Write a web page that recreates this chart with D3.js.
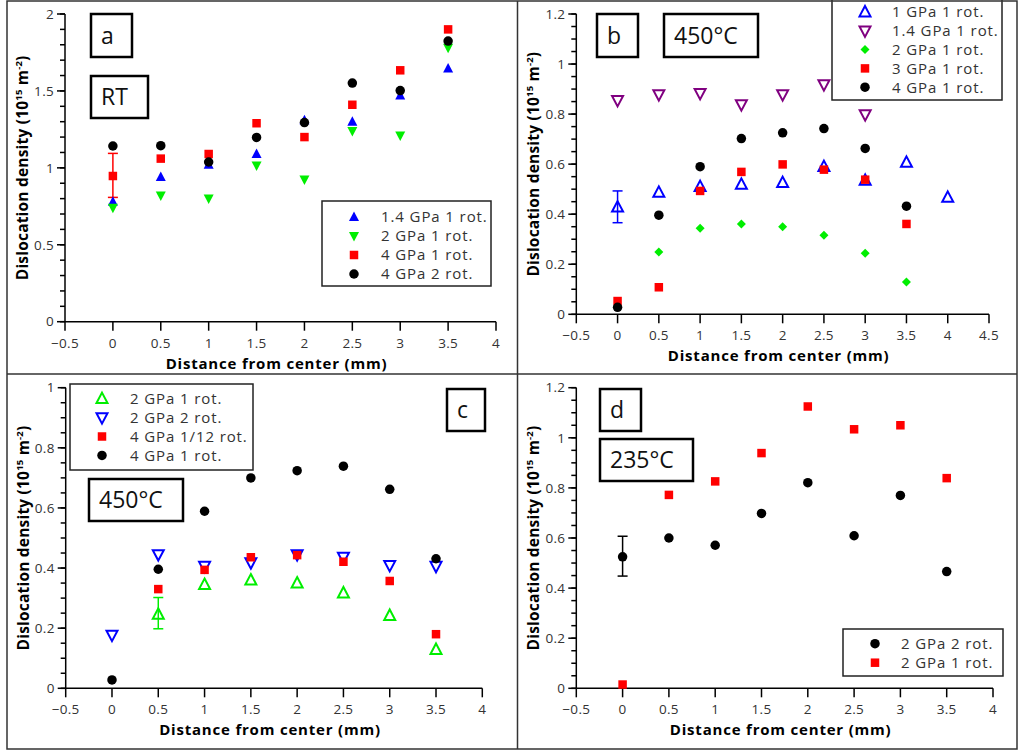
<!DOCTYPE html>
<html>
<head>
<meta charset="utf-8">
<script src="https://cdn.jsdelivr.net/npm/d3@7/dist/d3.min.js"></script>
<style>
  body { margin: 0; background: #fff; }
  svg { display: block; font-family: "Open Sans", "DejaVu Sans", sans-serif; }
</style>
</head>
<body>
<svg id="fig" width="1018" height="751"></svg>
<script>
'use strict';

// ---- data ----
var dist   = [0, 0.5, 1, 1.5, 2, 2.5, 3, 3.5];
var dist4  = [0, 0.5, 1, 1.5, 2, 2.5, 3, 3.5, 4];

// a: room temperature
var aP14r1 = [0.78, 0.94, 1.02, 1.09, 1.31, 1.30, 1.47, 1.645];
var aP2r1  = [0.74, 0.82, 0.80, 1.016, 0.925, 1.24, 1.21, 1.78];
var aP4r1  = [0.947, 1.06, 1.09, 1.29, 1.20, 1.41, 1.634, 1.90];
var aP4r2  = [1.142, 1.144, 1.038, 1.198, 1.294, 1.551, 1.502, 1.824];
var aErr   = [0.808, 1.094];

// b: 450°C
var bP1r1  = [0.428, 0.487, 0.51, 0.519, 0.526, 0.59, 0.535, 0.607, 0.467];
var bP14r1 = [0.855, 0.878, 0.883, 0.838, 0.878, 0.918, 0.798, null];
var bP2r1  = [null, 0.249, 0.344, 0.361, 0.35, 0.316, 0.244, 0.129];
var bP3r1  = [0.053, 0.108, 0.493, 0.569, 0.599, 0.578, 0.538, 0.361];
var bP4r1  = [0.028, 0.396, 0.59, 0.702, 0.725, 0.742, 0.663, 0.432];
var bErr   = [0.366, 0.493];

// c: 450°C
var cP2r1  = [null, 0.246, 0.345, 0.36, 0.35, 0.317, 0.242, 0.129];
var cP2r2  = [0.177, 0.445, 0.406, 0.418, 0.445, 0.436, 0.409, 0.406];
var cP4r12 = [null, 0.33, 0.394, 0.436, 0.443, 0.421, 0.357, 0.18];
var cP4r1  = [0.028, 0.396, 0.589, 0.70, 0.724, 0.739, 0.662, 0.431];
var cErr   = [0.198, 0.302];

// d: 235°C
var dP2r2  = [0.525, 0.60, 0.571, 0.698, 0.821, 0.609, 0.77, 0.466];
var dP2r1  = [0.015, 0.772, 0.826, 0.939, 1.125, 1.034, 1.05, 0.839];
var dErr   = [0.448, 0.607];

var xTicks7 = [-0.5, 0, 0.5, 1, 1.5, 2, 2.5, 3, 3.5, 4];
var xTicks8 = [-0.5, 0, 0.5, 1, 1.5, 2, 2.5, 3, 3.5, 4, 4.5];

var BLUE = '#0000ff', GREEN = '#00ee00', RED = '#ff0000', BLACK = '#000', PURPLE = '#800080';

// ---- marker shapes ----
function markerPath(shape, s) {
	var h = s / 2;
	switch (shape) {
	case 'up':      return 'M0,' + (-h * 1.1) + 'L' + h + ',' + (h * 0.8) + 'L' + (-h) + ',' + (h * 0.8) + 'Z';
	case 'down':    return 'M0,' + (h * 1.1) + 'L' + h + ',' + (-h * 0.8) + 'L' + (-h) + ',' + (-h * 0.8) + 'Z';
	case 'square':  return 'M' + (-h) + ',' + (-h) + 'h' + s + 'v' + s + 'h' + (-s) + 'Z';
	case 'diamond': return 'M0,' + (-h) + 'L' + h + ',0L0,' + h + 'L' + (-h) + ',0Z';
	default:        return d3.arc()({ innerRadius: 0, outerRadius: h, startAngle: 0, endAngle: 2 * Math.PI });
	}
}

function drawMarker(g, shape, open, color, size, x, y) {
	g.append('path')
		.attr('transform', 'translate(' + x + ',' + y + ')')
		.attr('d', markerPath(shape, size))
		.attr('fill', open ? 'none' : color)
		.attr('stroke', open ? color : 'none')
		.attr('stroke-width', open ? 2 : 0);
}

var svg = d3.select('#fig');

function panel(cfg) {
	var g = svg.append('g');
	var x = d3.scaleLinear().domain(cfg.xDomain).range(cfg.xRange);
	var y = d3.scaleLinear().domain(cfg.yDomain).range(cfg.yRange);
	var fmt = function (d) { return d3.format('~g')(d).replace('-', '\u2212'); };

	// y axis with minor ticks
	var yAxis = g.append('g').attr('transform', 'translate(' + cfg.xRange[0] + ',0)');
	yAxis.append('line').attr('y1', y.range()[0]).attr('y2', y.range()[1]).attr('stroke', '#000').attr('stroke-width', 1.5);
	d3.range(0, Math.round((cfg.yDomain[1] - cfg.yDomain[0]) / cfg.yMinor) + 1).forEach(function (i) {
		var v = cfg.yDomain[0] + i * cfg.yMinor;
		yAxis.append('line').attr('x1', -5).attr('x2', 0).attr('y1', y(v)).attr('y2', y(v))
			.attr('stroke', '#000').attr('stroke-width', 1.5);
	});
	cfg.yTicks.forEach(function (v) {
		yAxis.append('line').attr('x1', -8).attr('x2', 0).attr('y1', y(v)).attr('y2', y(v))
			.attr('stroke', '#000').attr('stroke-width', 1.5);
		yAxis.append('text').attr('x', -11).attr('y', y(v)).attr('dy', '0.35em')
			.attr('text-anchor', 'end').attr('font-size', 13.5).attr('letter-spacing', 0.3)
			.attr('fill', '#333').text(fmt(v));
	});

	// x axis
	var xAxis = g.append('g').attr('transform', 'translate(0,' + cfg.yRange[0] + ')');
	xAxis.append('line').attr('x1', x.range()[0]).attr('x2', x.range()[1]).attr('stroke', '#000').attr('stroke-width', 1.5);
	cfg.xTicks.forEach(function (v) {
		xAxis.append('line').attr('x1', x(v)).attr('x2', x(v)).attr('y1', 0).attr('y2', 9)
			.attr('stroke', '#000').attr('stroke-width', 1.5);
		xAxis.append('text').attr('x', x(v)).attr('y', 26)
			.attr('text-anchor', 'middle').attr('font-size', 13.5).attr('letter-spacing', 0.3)
			.attr('fill', '#333').text(fmt(v));
	});

	// axis titles
	g.append('text')
		.attr('x', (cfg.xRange[0] + cfg.xRange[1]) / 2 - 4).attr('y', cfg.yRange[0] + 47)
		.attr('text-anchor', 'middle').attr('font-size', 15).attr('font-weight', 'bold')
		.attr('letter-spacing', 0.8)
		.text('Distance from center (mm)');
	var yt = g.append('text')
		.attr('transform', 'translate(' + (cfg.xRange[0] - 37) + ',' + ((cfg.yRange[0] + cfg.yRange[1]) / 2) + ') rotate(-90)')
		.attr('text-anchor', 'middle').attr('font-size', 15.5).attr('font-weight', 'bold')
		.attr('letter-spacing', 0.2);
	yt.append('tspan').text('Dislocation density (10');
	yt.append('tspan').attr('dy', -6).attr('font-size', 9.5).text('15');
	yt.append('tspan').attr('dy', 6).text(' m');
	yt.append('tspan').attr('dy', -6).attr('font-size', 9.5).text('-2');
	yt.append('tspan').attr('dy', 6).text(')');

	// error bars
	cfg.errors.forEach(function (e) {
		var eg = g.append('g').attr('stroke', e.color).attr('stroke-width', 1.5);
		var cx = x(e.x);
		eg.append('line').attr('x1', cx).attr('x2', cx).attr('y1', y(e.range[0])).attr('y2', y(e.range[1]));
		e.range.forEach(function (v) {
			eg.append('line').attr('x1', cx - 5).attr('x2', cx + 5).attr('y1', y(v)).attr('y2', y(v));
		});
	});

	// points
	cfg.series.forEach(function (s) {
		var sg = g.append('g');
		s.values.forEach(function (v, i) {
			if (v === null) { return; }
			drawMarker(sg, s.shape, s.open, s.color, s.size, x(s.xs[i]), y(v));
		});
	});

	// legend
	var L = cfg.legend;
	g.append('rect').attr('x', L.x).attr('y', L.y).attr('width', L.w).attr('height', L.h)
		.attr('fill', '#fff').attr('stroke', '#222').attr('stroke-width', 1.5);
	cfg.series.forEach(function (s, i) {
		var ly = L.y0 + i * L.step;
		drawMarker(g, s.shape, s.open, s.color, s.size, L.sx, ly);
		g.append('text').attr('x', L.tx).attr('y', ly).attr('dy', '0.36em')
			.attr('font-size', 15).attr('letter-spacing', 0.9).attr('fill', '#333').text(s.name);
	});

	// label boxes
	cfg.boxes.forEach(function (b) {
		g.append('rect').attr('x', b.x).attr('y', b.y).attr('width', b.w).attr('height', b.h)
			.attr('fill', '#fff').attr('stroke', '#000').attr('stroke-width', 2.5);
		g.append('text').attr('x', b.x + 10).attr('y', b.y + b.h / 2).attr('dy', '0.36em')
			.attr('font-size', 23).attr('fill', '#111').text(b.text);
	});
}

// ---- panels ----
panel({
	xDomain: [-0.5, 4], xRange: [65, 496], yDomain: [0, 2], yRange: [321.7, 14],
	xTicks: xTicks7, yTicks: [0, 0.5, 1, 1.5, 2], yMinor: 0.1,
	series: [
		{ name: '1.4 GPa 1 rot.', xs: dist, values: aP14r1, shape: 'up',     open: false, color: BLUE,  size: 10 },
		{ name: '2 GPa 1 rot.',   xs: dist, values: aP2r1,  shape: 'down',   open: false, color: GREEN, size: 10 },
		{ name: '4 GPa 1 rot.',   xs: dist, values: aP4r1,  shape: 'square', open: false, color: RED,   size: 8.5 },
		{ name: '4 GPa 2 rot.',   xs: dist, values: aP4r2,  shape: 'circle', open: false, color: BLACK, size: 9.5 }
	],
	errors: [{ x: 0, range: aErr, color: RED }],
	legend: { x: 322, y: 201, w: 169, h: 85, y0: 217, step: 19, sx: 354, tx: 381 },
	boxes: [{ x: 91, y: 14, w: 41, h: 43, text: 'a' }, { x: 91, y: 76, w: 57, h: 42, text: 'RT' }]
});

panel({
	xDomain: [-0.5, 4.5], xRange: [576.3, 989], yDomain: [0, 1.2], yRange: [314.3, 14],
	xTicks: xTicks8, yTicks: [0, 0.2, 0.4, 0.6, 0.8, 1, 1.2], yMinor: 0.05,
	series: [
		{ name: '1 GPa 1 rot.',   xs: dist4, values: bP1r1,  shape: 'up',      open: true,  color: BLUE,   size: 11 },
		{ name: '1.4 GPa 1 rot.', xs: dist,  values: bP14r1, shape: 'down',    open: true,  color: PURPLE, size: 11 },
		{ name: '2 GPa 1 rot.',   xs: dist,  values: bP2r1,  shape: 'diamond', open: false, color: GREEN,  size: 9 },
		{ name: '3 GPa 1 rot.',   xs: dist,  values: bP3r1,  shape: 'square',  open: false, color: RED,    size: 8.5 },
		{ name: '4 GPa 1 rot.',   xs: dist,  values: bP4r1,  shape: 'circle',  open: false, color: BLACK,  size: 9.5 }
	],
	errors: [{ x: 0, range: bErr, color: BLUE }],
	legend: { x: 832, y: -2, w: 170, h: 102, y0: 12, step: 18.8, sx: 865, tx: 892 },
	boxes: [{ x: 597, y: 14, w: 41, h: 43, text: 'b' }, { x: 664, y: 14, w: 94, h: 43, text: '450°C' }]
});

panel({
	xDomain: [-0.5, 4], xRange: [65.7, 482.3], yDomain: [0, 1], yRange: [688.3, 387.7],
	xTicks: xTicks7, yTicks: [0, 0.2, 0.4, 0.6, 0.8, 1], yMinor: 0.05,
	series: [
		{ name: '2 GPa 1 rot.',    xs: dist, values: cP2r1,  shape: 'up',     open: true,  color: GREEN, size: 11 },
		{ name: '2 GPa 2 rot.',    xs: dist, values: cP2r2,  shape: 'down',   open: true,  color: BLUE,  size: 11 },
		{ name: '4 GPa 1/12 rot.', xs: dist, values: cP4r12, shape: 'square', open: false, color: RED,   size: 8.5 },
		{ name: '4 GPa 1 rot.',    xs: dist, values: cP4r1,  shape: 'circle', open: false, color: BLACK, size: 9.5 }
	],
	errors: [{ x: 0.5, range: cErr, color: GREEN }],
	legend: { x: 70, y: 384, w: 183, h: 86, y0: 398.7, step: 18.9, sx: 102, tx: 130 },
	boxes: [{ x: 447, y: 389, w: 38, h: 42, text: 'c' }, { x: 89, y: 479, w: 94, h: 42, text: '450°C' }]
});

panel({
	xDomain: [-0.5, 4], xRange: [576.3, 993], yDomain: [0, 1.2], yRange: [688.3, 387.7],
	xTicks: xTicks7, yTicks: [0, 0.2, 0.4, 0.6, 0.8, 1, 1.2], yMinor: 0.05,
	series: [
		{ name: '2 GPa 2 rot.', xs: dist, values: dP2r2, shape: 'circle', open: false, color: BLACK, size: 9.5 },
		{ name: '2 GPa 1 rot.', xs: dist, values: dP2r1, shape: 'square', open: false, color: RED,   size: 8.5 }
	],
	errors: [{ x: 0, range: dErr, color: BLACK }],
	legend: { x: 843, y: 629, w: 160, h: 47, y0: 643.7, step: 19, sx: 875, tx: 901 },
	boxes: [{ x: 600, y: 389, w: 41, h: 42, text: 'd' }, { x: 600, y: 439, w: 93, h: 42, text: '235°C' }]
});

// panel frame lines
var frame = svg.append('g').attr('stroke', '#333').attr('stroke-width', 1.5).attr('fill', 'none');
frame.append('rect').attr('x', 7).attr('y', 1).attr('width', 1010).attr('height', 748);
frame.append('line').attr('x1', 517.5).attr('x2', 517.5).attr('y1', 1).attr('y2', 749);
frame.append('line').attr('x1', 7).attr('x2', 1017).attr('y1', 374).attr('y2', 374);
</script>
</body>
</html>
